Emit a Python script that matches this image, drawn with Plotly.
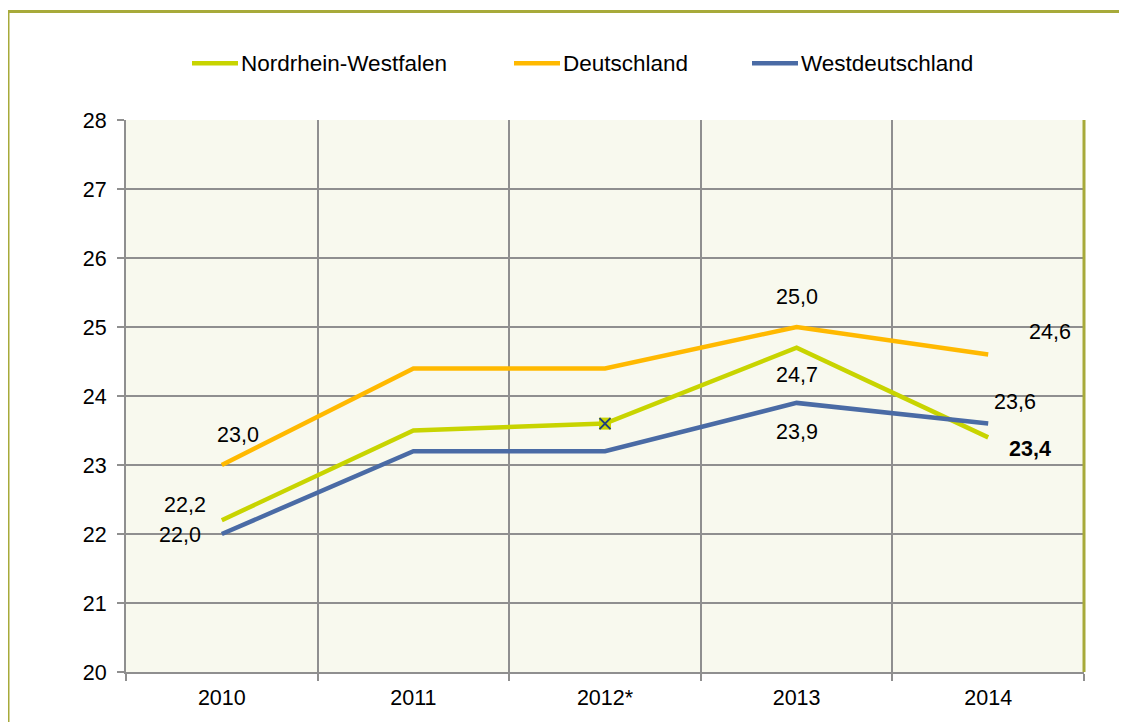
import plotly.graph_objects as go

years = ["2010", "2011", "2012*", "2013", "2014"]
nrw = [22.2, 23.5, 23.6, 24.7, 23.4]
deutschland = [23.0, 24.4, 24.4, 25.0, 24.6]
west = [22.0, 23.2, 23.2, 23.9, 23.6]
y_ticks = [20, 21, 22, 23, 24, 25, 26, 27, 28]
series_names = ["Nordrhein-Westfalen", "Deutschland", "Westdeutschland"]

c_nrw = "#C8D400"
c_de = "#FFB900"
c_west = "#4A6BA5"
grid = "#8F8F8F"
olive = "#A7AA3A"
font = "Liberation Sans, Arial, sans-serif"
fs = 21.5

fig = go.Figure()

for name, vals, col in zip(series_names, [nrw, deutschland, west], [c_nrw, c_de, c_west]):
    fig.add_trace(go.Scatter(x=years, y=vals, name=name, mode="lines", showlegend=False,
                             line=dict(color=col, width=4.5)))

# marker on 2012* (NRW)
fig.add_trace(go.Scatter(x=[years[2]], y=[nrw[2]], mode="markers", showlegend=False,
                         marker=dict(symbol="square", size=12, color=c_nrw, line=dict(width=0))))
fig.add_trace(go.Scatter(x=[years[2]], y=[nrw[2]], mode="markers", showlegend=False,
                         marker=dict(symbol="x-thin", size=11, line=dict(color="#1F3F7A", width=2))))

def fmt(v):
    return f"{v:.1f}".replace(".", ",")

# data labels: (series, index, xshift, yshift, bold)
labels = [
    (deutschland, 0, 16, 30, False),
    (deutschland, 3, 0, 30, False),
    (deutschland, 4, 62, 23, False),
    (nrw, 0, -37, 15, False),
    (nrw, 3, 0, -27, False),
    (nrw, 4, 42, -12, True),
    (west, 0, -42, -1, False),
    (west, 3, 0, -29, False),
    (west, 4, 27, 22, False),
]
annots = []
for s, i, dx, dy, b in labels:
    t = fmt(s[i])
    annots.append(dict(x=i, y=s[i], xref="x", yref="y", text=f"<b>{t}</b>" if b else t,
                       showarrow=False, xshift=dx, yshift=dy,
                       font=dict(family=font, size=fs, color="#000000")))

# legend drawn by hand (long line samples like the original)
def px(v):
    return (v - 126) / 958

def py(v):
    return (674 - v) / 554

shapes = []
leg_x = [192, 514, 752]
for name, col, lx in zip(series_names, [c_nrw, c_de, c_west], leg_x):
    shapes.append(dict(type="line", xref="paper", yref="paper", x0=px(lx), x1=px(lx + 46),
                       y0=py(63), y1=py(63), line=dict(color=col, width=4.5)))
    annots.append(dict(x=px(lx + 47), y=py(63), xref="paper", yref="paper", text=name,
                       showarrow=False, xanchor="left", yanchor="middle",
                       font=dict(family=font, size=22.5, color="#000000")))

# outer frame (top and left visible) and plot right border
shapes.append(dict(type="line", xref="paper", yref="paper", x0=px(8), x1=px(1140), y0=py(11), y1=py(11),
                   line=dict(color=olive, width=3)))
shapes.append(dict(type="line", xref="paper", yref="paper", x0=px(8), x1=px(8), y0=py(11), y1=py(740),
                   line=dict(color=olive, width=3)))
shapes.append(dict(type="line", xref="paper", yref="paper", x0=1, x1=1, y0=0, y1=1,
                   line=dict(color=olive, width=3)))

fig.update_layout(
    width=1119, height=714,
    margin=dict(l=118, r=43, t=112, b=48),
    paper_bgcolor="white",
    plot_bgcolor="#F8F9EE",
    font=dict(family=font, size=fs, color="#000000"),
    showlegend=False,
    annotations=annots,
    shapes=shapes,
)
fig.update_xaxes(type="category", tickson="boundaries", showgrid=True, gridcolor=grid, gridwidth=2,
                 showline=True, linecolor=grid, linewidth=2, ticks="outside", ticklen=7,
                 tickcolor=grid, tickwidth=2, range=[-0.5, 4.5], tickfont=dict(size=fs),
                 ticklabelstandoff=5)
fig.update_yaxes(range=[20, 28], tickvals=y_ticks, showgrid=True, gridcolor=grid, gridwidth=2,
                 showline=True, linecolor=grid, linewidth=2, ticks="outside", ticklen=7,
                 tickcolor=grid, tickwidth=2, zeroline=False, tickfont=dict(size=fs),
                 ticklabelstandoff=6)

fig.write_html("out.html")
